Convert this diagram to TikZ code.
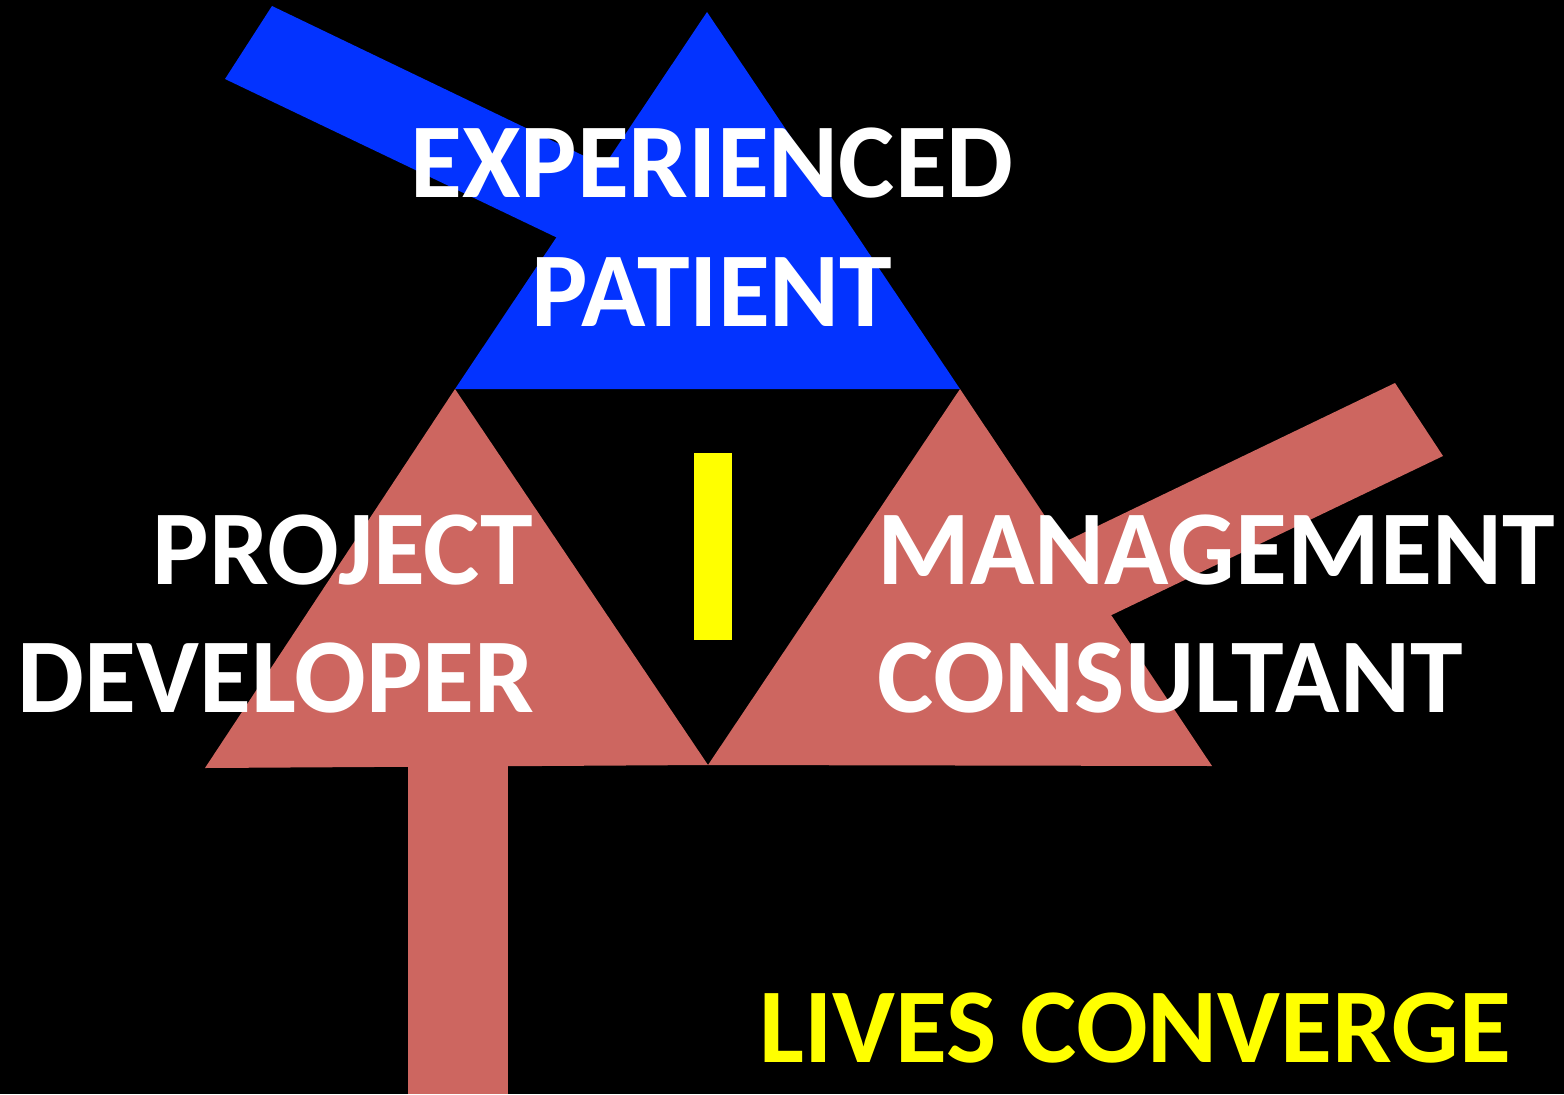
\documentclass[tikz,border=0pt]{standalone}
\usepackage{fontspec}
\setmainfont{Carlito}
\definecolor{patientblue}{RGB}{3,51,255}
\definecolor{salmon}{RGB}{205,102,96}
\definecolor{signyellow}{RGB}{255,255,0}
\begin{document}
\begin{tikzpicture}[x=0.01cm,y=-0.01cm,
  label/.style={inner sep=0pt,font=\fontsize{30.2}{36}\selectfont\bfseries,text=white}]

%background
\fill[black] (0,0) rectangle (1564,1094);
\useasboundingbox (0,0) rectangle (1564,1094);

%blue bar and triangle
\fill[patientblue] (272,6) -- (225,79) -- (610,263) -- (657,191) -- cycle;
\fill[patientblue] (707,12) -- (455,389) -- (960,389) -- cycle;

%salmon bars
\fill[salmon] (408,760) rectangle (508,1094);
\fill[salmon] (1395,383) -- (1443,456) -- (1047,646) -- (1000,573) -- cycle;

%salmon triangles
\fill[salmon] (455,389) -- (205,768) -- (708,765) -- cycle;
\fill[salmon] (960,389) -- (708,765) -- (1212,766) -- cycle;

%yellow bar
\fill[signyellow] (694,453) rectangle (732,640);

%labels
\node[label,anchor=base] (exp) at (712,197) {EXPERIENCED};
\node[label,anchor=base] (pat) at (712,326) {PATIENT};
\node[label,anchor=base east] (proj) at (534,584) {PROJECT};
\node[label,anchor=base east] (dev) at (535,712) {DEVELOPER};
\node[label,anchor=base west] (man) at (877,584) {MANAGEMENT};
\node[label,anchor=base west] (cons) at (877,712) {CONSULTANT};
\node[label,text=signyellow,anchor=base west] (lives) at (759,1062) {LIVES CONVERGE};
\end{tikzpicture}
\end{document}
